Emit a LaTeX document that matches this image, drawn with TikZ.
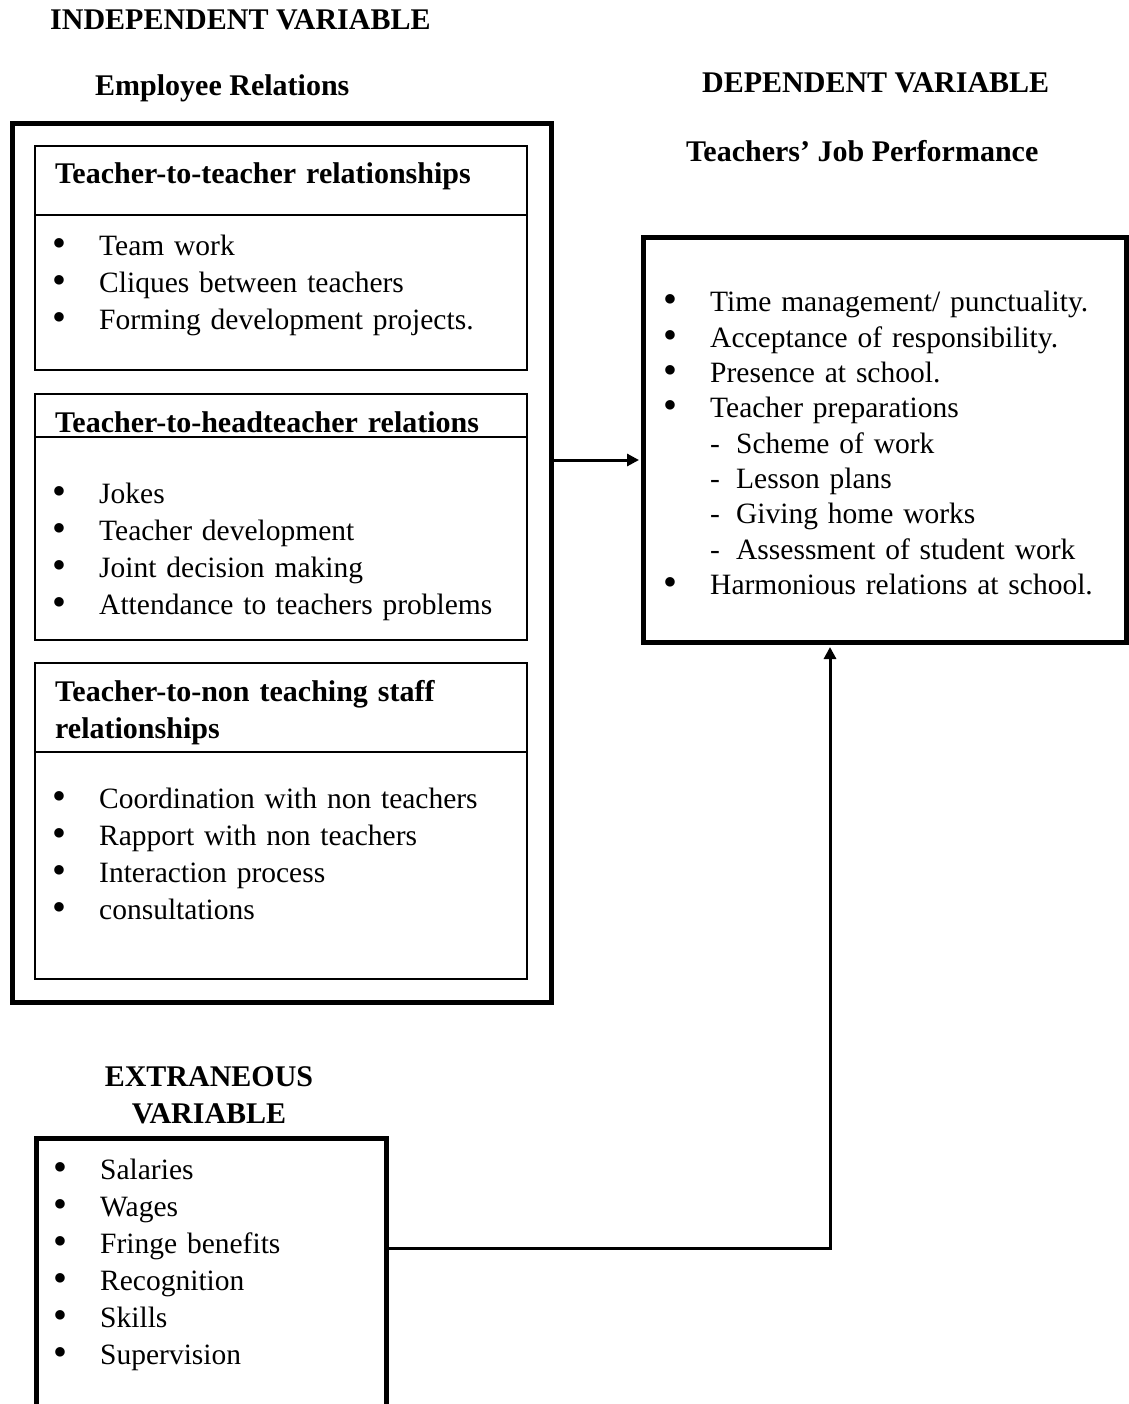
\documentclass[tikz,border=0pt]{standalone}
\usepackage{fontspec}
\setmainfont{Liberation Serif}
\usepackage{tikz}
\usetikzlibrary{arrows.meta, positioning}
\newcommand{\itm}{\makebox[47pt][l]{\raisebox{-1pt}{\scalebox{1.35}{\textbullet}}}}
\newcommand{\subitm}{\makebox[47pt]{}\makebox[26pt][l]{-}}
\tikzset{
    title/.style={font=\fontsize{30}{37}\selectfont\bfseries, inner sep=0pt, anchor=base west},
    head/.style={font=\fontsize{30}{37}\selectfont\bfseries, text width=470pt, align=left, inner sep=0pt, anchor=base west},
    items/.style={font=\fontsize{29.5}{37}\selectfont, text width=460pt, align=left, inner sep=0pt, anchor=base west},
    frame/.style={draw, line width=5pt, anchor=north west, inner sep=0pt},
    panel/.style={draw, line width=2pt, anchor=north west, inner sep=0pt, minimum width=492},
    rule/.style={line width=2pt},
    arrow/.style={-{Triangle[length=12pt, width=12pt]}, line width=3pt, shorten >=2pt},
}

\begin{document}
\begin{tikzpicture}[x=1pt, y=-1pt]
    \path[fill=white, use as bounding box] (0,0) rectangle (1128,1404);
    % variable titles
    \node[title] (indvar) at (50,30) {INDEPENDENT VARIABLE};
    \node[title] (emprel) at (95,96) {Employee Relations};
    \node[title] (depvar) at (702,93) {DEPENDENT VARIABLE};
    \node[title] (jobperf) at (686,162) {Teachers' Job Performance};
    \node[title, anchor=north, align=center] (extvar) at (209,1066) {EXTRANEOUS\\VARIABLE};
    % frames
    \node[frame, minimum width=539, minimum height=879] (outer) at (10,121) {};
    \node[panel, minimum height=224] (ttbox) at (34,145) {};
    \node[panel, minimum height=246] (thbox) at (34,393) {};
    \node[panel, minimum height=316] (tnbox) at (34,662) {};
    \node[frame, minimum width=483, minimum height=405] (perfbox) at (641,235) {};
    \node[frame, minimum width=350, minimum height=283] (extbox) at (34,1136) {};
    \draw[rule] ([yshift=-70pt]ttbox.north west) -- ([yshift=-70pt]ttbox.north east);
    \draw[rule] ([yshift=-44pt]thbox.north west) -- ([yshift=-44pt]thbox.north east);
    \draw[rule] ([yshift=-90pt]tnbox.north west) -- ([yshift=-90pt]tnbox.north east);
    % employee relations
    \node[head] (tthead) at (55,184) {Teacher-to-teacher relationships};
    \node[items] (ttlist) at (52,256) {\itm Team work\\
        \itm Cliques between teachers\\
        \itm Forming development projects.};
    \node[head] (thhead) at (55,432) {Teacher-to-headteacher relations};
    \node[items] (thlist) at (52,503) {\itm Jokes\\
        \itm Teacher development\\
        \itm Joint decision making\\
        \itm Attendance to teachers problems};
    \node[head] (tnhead) at (55,701) {Teacher-to-non teaching staff\\relationships};
    \node[items] (tnlist) at (52,808) {\itm Coordination with non teachers\\
        \itm Rapport with non teachers\\
        \itm Interaction process\\
        \itm consultations};
    % job performance
    \node[items, text width=450pt, font=\fontsize{29.5}{35.3}\selectfont] (perflist) at (663,312) {\itm Time management/ punctuality.\\
        \itm Acceptance of responsibility.\\
        \itm Presence at school.\\
        \itm Teacher preparations\\
        \subitm Scheme of work\\
        \subitm Lesson plans\\
        \subitm Giving home works\\
        \subitm Assessment of student work\\
        \itm Harmonious relations at school.};
    % extraneous
    \node[items, text width=320pt] (extlist) at (53,1179) {\itm Salaries\\
        \itm Wages\\
        \itm Fringe benefits\\
        \itm Recognition\\
        \itm Skills\\
        \itm Supervision};
    \draw[arrow] (outer.east |- 0,460) -- (perfbox.west |- 0,460);
    \draw[arrow] (extbox.east |- 0,1248) -| (perfbox.south -| 830,0);
\end{tikzpicture}
\end{document}
